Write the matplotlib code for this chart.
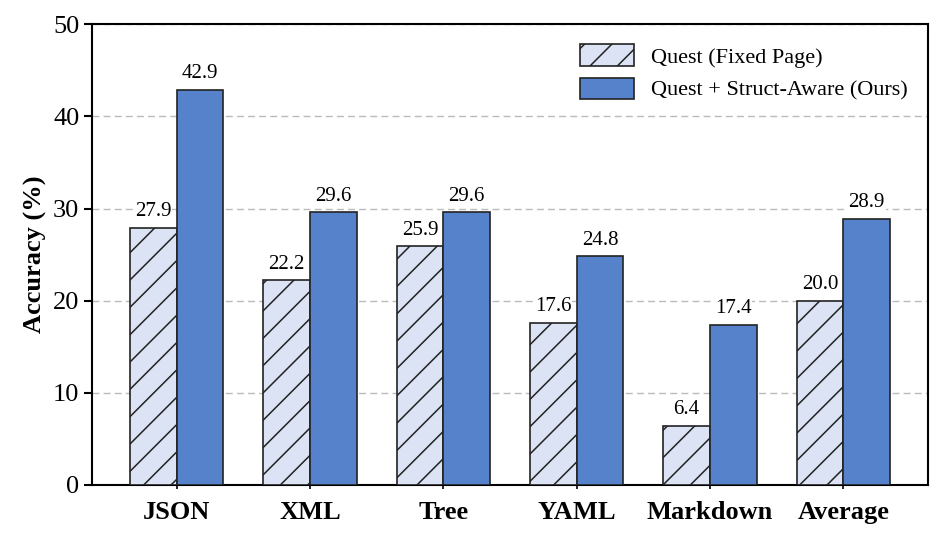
import matplotlib.pyplot as plt
import numpy as np

# render at lower dpi so the hatch lines come out a bit denser; S keeps sizes
DPI = 82
S = 100 / DPI

plt.rcParams['font.family'] = ['Liberation Serif', 'DejaVu Serif']
plt.rcParams['hatch.linewidth'] = 1.1 * S

# Data
categories = ['JSON', 'XML', 'Tree', 'YAML', 'Markdown', 'Average']
quest_fixed = [27.9, 22.2, 25.9, 17.6, 6.4, 20.0]
quest_struct = [42.9, 29.6, 29.6, 24.8, 17.4, 28.9]

x = np.arange(len(categories))
w = 0.35

fig, ax = plt.subplots(figsize=(947 / DPI, 541 / DPI), dpi=DPI)

b1 = ax.bar(x - w/2, quest_fixed, w, color='#dce3f4', edgecolor='#222222',
            linewidth=1.2 * S, hatch='/', label='Quest (Fixed Page)', zorder=3)
b2 = ax.bar(x + w/2, quest_struct, w, color='#5682cb', edgecolor='#222222',
            linewidth=1.2 * S, label='Quest + Struct-Aware (Ours)', zorder=3)

for bars in (b1, b2):
    for b in bars:
        ax.text(b.get_x() + b.get_width()/2, b.get_height() + 0.7,
                f'{b.get_height():.1f}', ha='center', va='bottom', fontsize=15 * S,
                zorder=4, bbox=dict(facecolor='white', edgecolor='none', pad=0.5))

ax.set_ylim(0, 50)
ax.set_yticks(range(0, 51, 10))
ax.set_xticks(x)
ax.set_xticklabels(categories, fontweight='bold', fontsize=19 * S)
ax.tick_params(axis='y', labelsize=19 * S, width=1.5 * S, length=6 * S, pad=3 * S)
ax.tick_params(axis='x', width=1.2 * S, length=3 * S, pad=9 * S)
ax.set_ylabel('Accuracy (%)', fontweight='bold', fontsize=19 * S, labelpad=4 * S)
ax.yaxis.grid(True, linestyle='--', color='#bbbbbb', linewidth=1 * S, zorder=0,
              dashes=(5, 3))
ax.set_axisbelow(True)
for s in ax.spines.values():
    s.set_linewidth(1.5 * S)

ax.legend(loc='upper right', fontsize=16 * S, frameon=False, borderaxespad=0.5,
          handlelength=2.4, handleheight=1.1, labelspacing=0.45, handletextpad=0.8)

plt.subplots_adjust(left=0.097, right=0.98, top=0.955, bottom=0.104)
plt.savefig('out.png', dpi=DPI)
